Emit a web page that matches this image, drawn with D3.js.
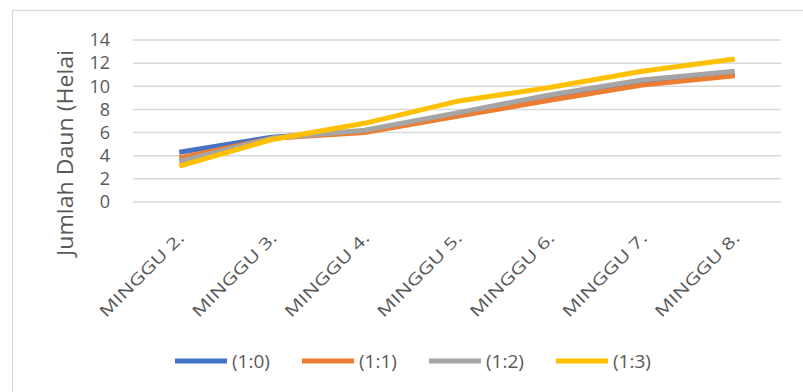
<!DOCTYPE html>
<html>
<head>
<meta charset="utf-8">
<script src="https://cdn.jsdelivr.net/npm/d3@7"></script>
<style>
  body { margin: 0; background: #fff; }
  text { font-family: "Open Sans", "Liberation Sans", sans-serif; fill: #595959; }
</style>
</head>
<body>
<svg id="chart" width="803" height="392"></svg>
<script>
var categories = ["MINGGU 2.", "MINGGU 3.", "MINGGU 4.", "MINGGU 5.", "MINGGU 6.", "MINGGU 7.", "MINGGU 8."];
var seriesNames = ["(1:0)", "(1:1)", "(1:2)", "(1:3)"];
var s10 = [4.3, 5.6, 6.1, 7.6, 9.0, 10.3, 11.1];
var s11 = [3.8, 5.5, 6.0, 7.4, 8.8, 10.1, 10.9];
var s12 = [3.5, 5.5, 6.2, 7.7, 9.25, 10.55, 11.3];
var s13 = [3.1, 5.4, 6.8, 8.7, 9.9, 11.3, 12.35];
var yTicks = [0, 2, 4, 6, 8, 10, 12, 14];
var colors = ["#4472C4", "#ED7D31", "#A5A5A5", "#FFC000"];
var allSeries = [s10, s11, s12, s13];

var svg = d3.select("#chart");

// chart frame
svg.append("rect")
  .attr("x", 12.5).attr("y", 10.5)
  .attr("width", 820).attr("height", 400)
  .attr("fill", "none")
  .attr("stroke", "#d9d9d9")
  .attr("stroke-width", 1.2);

var x = d3.scalePoint()
  .domain(categories)
  .range([133, 781])
  .padding(0.5);

var y = d3.scaleLinear()
  .domain([0, 14])
  .range([202, 40]);

// gridlines
svg.append("g").selectAll("line")
  .data(yTicks)
  .enter().append("line")
  .attr("x1", 133).attr("x2", 781)
  .attr("y1", function(d) { return y(d); })
  .attr("y2", function(d) { return y(d); })
  .attr("stroke", "#d9d9d9")
  .attr("stroke-width", 1.5);

// y axis labels
var yAxis = d3.axisLeft(y).tickValues(yTicks).tickSize(0).tickPadding(0);
var gy = svg.append("g")
  .attr("transform", "translate(110,0)")
  .call(yAxis);
gy.select(".domain").remove();
gy.selectAll("text")
  .attr("font-family", null)
  .style("font-size", "18px")
  .style("fill", "#595959");

// y title
svg.append("text")
  .attr("transform", "translate(73,153) rotate(-90)")
  .attr("text-anchor", "middle")
  .style("font-size", "21px")
  .attr("textLength", 206)
  .attr("lengthAdjust", "spacingAndGlyphs")
  .text("Jumlah Daun (Helai");

// x labels
svg.append("g").selectAll("text")
  .data(categories)
  .enter().append("text")
  .attr("transform", function(d) { return "translate(" + (x(d) + 6) + ",239) rotate(-45)"; })
  .attr("text-anchor", "end")
  .style("font-size", "16px")
  .attr("textLength", 112)
  .attr("lengthAdjust", "spacingAndGlyphs")
  .text(function(d) { return d; });

// lines
var line = d3.line()
  .x(function(d, i) { return x(categories[i]); })
  .y(function(d) { return y(d); });

svg.append("g").selectAll("path")
  .data(allSeries)
  .enter().append("path")
  .attr("d", line)
  .attr("fill", "none")
  .attr("stroke", function(d, i) { return colors[i]; })
  .attr("stroke-width", 5)
  .attr("stroke-linejoin", "round");

// legend
var legend = svg.append("g").selectAll("g")
  .data(seriesNames)
  .enter().append("g")
  .attr("transform", function(d, i) { return "translate(" + (175 + i * 127) + ",361)"; });

legend.append("line")
  .attr("x1", 0).attr("x2", 52)
  .attr("stroke", function(d, i) { return colors[i]; })
  .attr("stroke-width", 5);

legend.append("text")
  .attr("x", 57)
  .attr("y", 7)
  .style("font-size", "19px")
  .text(function(d) { return d; });
</script>
</body>
</html>
